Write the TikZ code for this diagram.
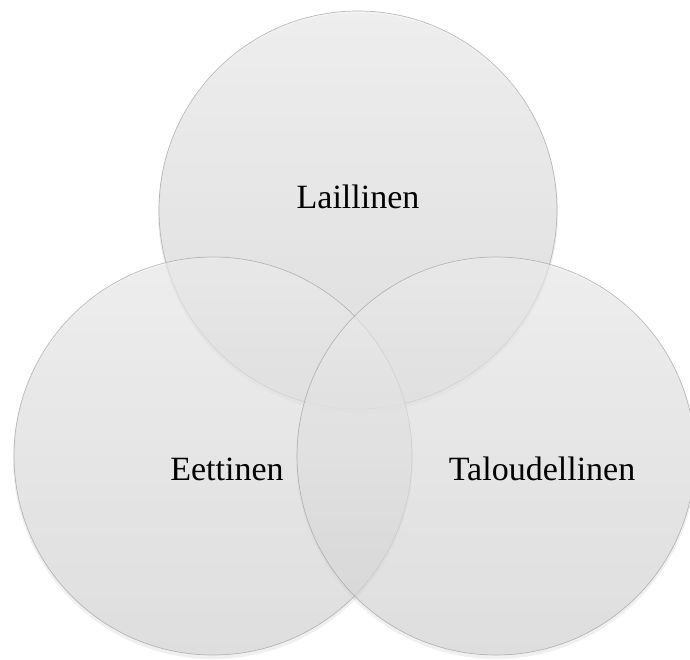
\documentclass[tikz,border=0pt]{standalone}
\usepackage{fontspec}
\setmainfont{Liberation Serif}
\begin{document}
\begin{tikzpicture}[x=1pt,y=-1pt,
  venn/.style={circle, minimum size=398pt, inner sep=0pt, draw=gray!75, line width=0.7pt,
    top color=gray!14, bottom color=gray!34, fill opacity=0.62, draw opacity=0.7},
  vshadow/.style={circle, minimum size=400pt, inner sep=0pt, fill=black, fill opacity=0.06, draw=none},
  lbl/.style={font=\fontsize{34}{40}\selectfont, text=black, inner sep=0pt}]
\useasboundingbox (0,0) rectangle (690,659);
\begin{scope}
\clip (0,0) rectangle (690,659);
% soft shadows
\node[vshadow] (st) at (358,213) {};
\node[vshadow] (sl) at (213,459) {};
\node[vshadow] (sr) at (496,459) {};
% circles
\node[venn] (top) at (358,210) {};
\node[venn] (left) at (213,456) {};
\node[venn] (right) at (496,456) {};
\end{scope}
% labels
\node[lbl] (t1) at (358,197) {Laillinen};
\node[lbl] (t2) at (227,469) {Eettinen};
\node[lbl] (t3) at (542,469) {Taloudellinen};
\end{tikzpicture}
\end{document}
